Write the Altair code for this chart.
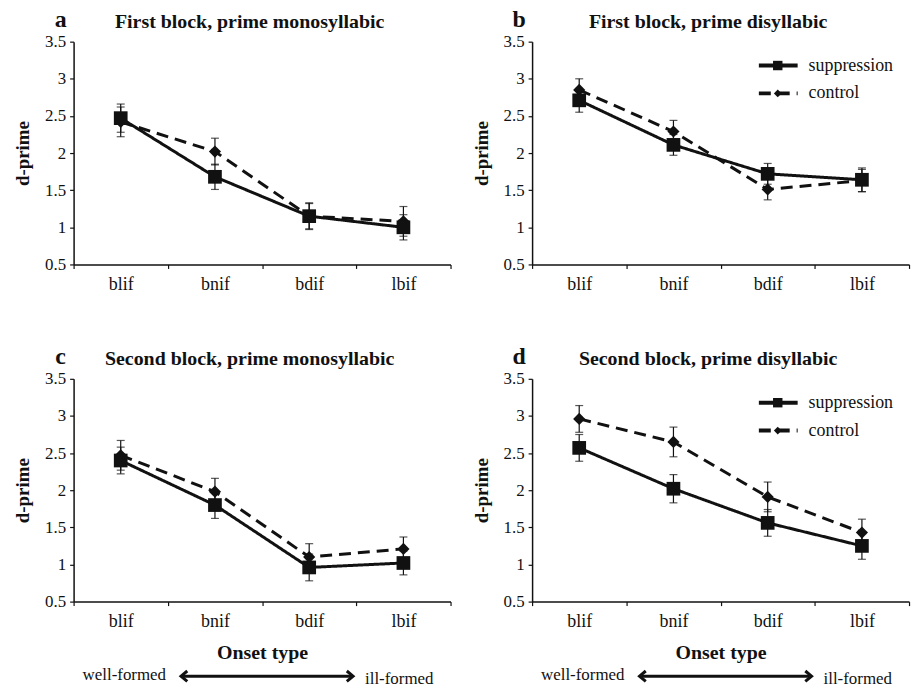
import altair as alt
import pandas as pd

# ---- data ---------------------------------------------------------------
categories = ["blif", "bnif", "bdif", "lbif"]
series_names = ["suppression", "control"]

panel_letters = ["a", "b", "c", "d"]
panel_titles = [
    "First block, prime monosyllabic",
    "First block, prime disyllabic",
    "Second block, prime monosyllabic",
    "Second block, prime disyllabic",
]

# d-prime means and error-bar half widths per onset type
supp_a = [2.47, 1.68, 1.15, 1.00]
supp_a_err = [0.19, 0.17, 0.18, 0.17]
ctrl_a = [2.42, 2.02, 1.15, 1.08]
ctrl_a_err = [0.20, 0.18, 0.17, 0.20]

supp_b = [2.71, 2.11, 1.72, 1.64]
supp_b_err = [0.16, 0.14, 0.14, 0.16]
ctrl_b = [2.85, 2.29, 1.51, 1.63]
ctrl_b_err = [0.15, 0.15, 0.14, 0.15]

supp_c = [2.40, 1.80, 0.96, 1.02]
supp_c_err = [0.18, 0.18, 0.18, 0.16]
ctrl_c = [2.47, 1.98, 1.10, 1.21]
ctrl_c_err = [0.20, 0.18, 0.18, 0.16]

supp_d = [2.57, 2.02, 1.56, 1.25]
supp_d_err = [0.18, 0.19, 0.18, 0.18]
ctrl_d = [2.96, 2.65, 1.91, 1.43]
ctrl_d_err = [0.18, 0.20, 0.20, 0.18]

y_ticks = [0.5, 1, 1.5, 2, 2.5, 3, 3.5]
x_title = "Onset type"
y_title = "d-prime"
scale_ends = ["well-formed", "ill-formed"]

# ---- styling ------------------------------------------------------------
FONT = "Liberation Serif"
INK = "#111111"
W, H = 379, 224
one_row = pd.DataFrame({"k": [0]})


def panel(i, supp, supp_err, ctrl, ctrl_err, legend=False, bottom=False):
    rows = []
    for name, vals, errs in (("control", ctrl, ctrl_err),
                             ("suppression", supp, supp_err)):
        for c, v, e in zip(categories, vals, errs):
            rows.append({"onset": c, "series": name, "dprime": v,
                         "lo": v - e, "hi": v + e})
    df = pd.DataFrame(rows)

    x_axis = alt.Axis(tickBand="extent", labelAngle=0,
                      title=x_title if bottom else None)
    x = alt.X("onset:N", sort=categories,
              scale=alt.Scale(domain=categories, paddingInner=0, paddingOuter=0),
              axis=x_axis)
    y_scale = alt.Scale(domain=[0.5, 3.5], nice=False, zero=False)
    y_axis = alt.Axis(values=y_ticks, format="~g", title=y_title, grid=False)

    base = alt.Chart(df)
    bars = base.mark_rule(color=INK, strokeWidth=1.2).encode(
        x=x, y=alt.Y("lo:Q", scale=y_scale, axis=y_axis), y2="hi:Q")
    caps_lo = base.mark_tick(color=INK, size=8, thickness=1.2).encode(
        x=x, y=alt.Y("lo:Q", scale=y_scale, axis=y_axis))
    caps_hi = base.mark_tick(color=INK, size=8, thickness=1.2).encode(
        x=x, y=alt.Y("hi:Q", scale=y_scale, axis=y_axis))
    lines = base.mark_line(color=INK, strokeWidth=3).encode(
        x=x, y=alt.Y("dprime:Q", scale=y_scale, axis=y_axis),
        strokeDash=alt.StrokeDash("series:N",
                                  scale=alt.Scale(domain=series_names,
                                                  range=[[1, 0], [12, 7]]),
                                  legend=None),
        order=alt.Order("series:N"))
    pts = base.mark_point(filled=True, color=INK, opacity=1).encode(
        x=x, y=alt.Y("dprime:Q", scale=y_scale, axis=y_axis),
        shape=alt.Shape("series:N",
                        scale=alt.Scale(domain=series_names,
                                        range=["square", "diamond"]),
                        legend=None),
        size=alt.Size("series:N",
                      scale=alt.Scale(domain=series_names, range=[190, 150]),
                      legend=None))

    letter = alt.Chart(one_row).mark_text(
        text=panel_letters[i], font=FONT, fontSize=24, fontWeight="bold",
        color=INK, align="center", baseline="alphabetic"
    ).encode(x=alt.value(-13), y=alt.value(-15))
    title = alt.Chart(one_row).mark_text(
        text=panel_titles[i], font=FONT, fontSize=20, fontWeight="bold",
        color=INK, align="center", baseline="alphabetic"
    ).encode(x=alt.value(177), y=alt.value(-14))

    layers = [bars, caps_lo, caps_hi, lines, pts, letter, title]

    if legend:
        for j, (name, shape, dash, msize) in enumerate(
                [("suppression", "square", [1, 0], 90),
                 ("control", "diamond", [12, 7], 60)]):
            ly = 24 + 28 * j
            seg = alt.Chart(one_row).mark_rule(
                color=INK, strokeWidth=4, strokeDash=dash
            ).encode(x=alt.value(228), x2=alt.value(267), y=alt.value(ly))
            mk = alt.Chart(one_row).mark_point(
                filled=True, color=INK, opacity=1, shape=shape, size=msize
            ).encode(x=alt.value(247), y=alt.value(ly))
            lab = alt.Chart(one_row).mark_text(
                text=name, font=FONT, fontSize=18, color=INK,
                align="left", baseline="middle"
            ).encode(x=alt.value(278), y=alt.value(ly))
            layers += [seg, mk, lab]

    if bottom:
        ay = H + 75
        shaft = alt.Chart(one_row).mark_rule(color=INK, strokeWidth=3).encode(
            x=alt.value(110), x2=alt.value(279), y=alt.value(ay))
        head_l = alt.Chart(one_row).mark_point(
            shape="M1.2,-1L0,0L1.2,1", filled=False, color=INK,
            strokeWidth=3, size=110, opacity=1
        ).encode(x=alt.value(108), y=alt.value(ay))
        head_r = alt.Chart(one_row).mark_point(
            shape="M-1.2,-1L0,0L-1.2,1", filled=False, color=INK,
            strokeWidth=3, size=110, opacity=1
        ).encode(x=alt.value(281), y=alt.value(ay))
        left_txt = alt.Chart(one_row).mark_text(
            text=scale_ends[0], font=FONT, fontSize=17, color=INK,
            align="left", baseline="alphabetic"
        ).encode(x=alt.value(9), y=alt.value(H + 79))
        right_txt = alt.Chart(one_row).mark_text(
            text=scale_ends[1], font=FONT, fontSize=17, color=INK,
            align="left", baseline="alphabetic"
        ).encode(x=alt.value(293), y=alt.value(H + 83))
        layers += [shaft, head_l, head_r, left_txt, right_txt]

    return alt.layer(*layers).properties(width=W, height=H)


pa = panel(0, supp_a, supp_a_err, ctrl_a, ctrl_a_err)
pb = panel(1, supp_b, supp_b_err, ctrl_b, ctrl_b_err, legend=True)
pc = panel(2, supp_c, supp_c_err, ctrl_c, ctrl_c_err, bottom=True)
pd_ = panel(3, supp_d, supp_d_err, ctrl_d, ctrl_d_err, legend=True, bottom=True)

chart = alt.concat(
    pa, pb, pc, pd_, columns=2,
    spacing={"row": 115, "column": 82}, bounds="flush",
).properties(
    padding={"left": 13, "top": 6, "right": 5, "bottom": 2},
    background="white",
).configure_view(stroke=None).configure_axis(
    domainColor=INK, domainWidth=1.5, tickColor=INK, tickWidth=1.2,
    tickSize=4, labelFont=FONT, labelColor=INK, titleFont=FONT,
    titleColor=INK, titleFontWeight="bold",
).configure_axisX(
    labelFontSize=18, labelPadding=7, titleFontSize=20, titlePadding=12,
).configure_axisY(
    labelFontSize=17, labelPadding=4, titleFontSize=19, titlePadding=12,
)

chart.save("out.html", embed_options={"renderer": "svg", "actions": False})
